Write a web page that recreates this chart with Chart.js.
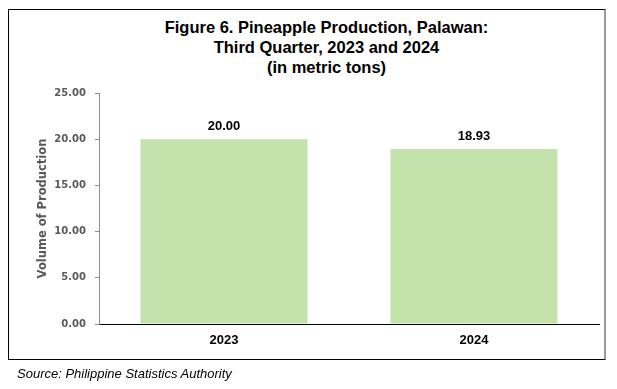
<!DOCTYPE html>
<html>
<head>
<meta charset="utf-8">
<script src="https://cdn.jsdelivr.net/npm/chart.js@4.4.1/dist/chart.umd.min.js"></script>
<style>
  html, body { margin: 0; padding: 0; background: #ffffff; }
  #frame { position: absolute; left: 8px; top: 9px; width: 595px; height: 349px;
           border: 1px solid #000000; border-right: 2px solid #9a9a9a; box-sizing: content-box; }
  #wrap { position: absolute; left: 0; top: 0; width: 617px; height: 389px; }
  #title { position: absolute; left: 0; top: 17px; width: 653px; text-align: center;
           font: bold 16.5px "Liberation Sans", Arial, sans-serif; line-height: 20px; color: #000000; }
  #source { position: absolute; left: 17px; top: 366px; font: italic 13px "Liberation Sans", Arial, sans-serif;
            line-height: 15px; color: #000000; white-space: nowrap; }
</style>
</head>
<body>
<div id="frame"></div>
<div id="title"></div>
<div id="wrap"><canvas id="c" width="617" height="389"></canvas></div>
<div id="source">Source: Philippine Statistics Authority</div>
<script>
const categories = ["2023", "2024"];
const production = [20.00, 18.93];
const titleLines = ["Figure 6. Pineapple Production, Palawan:", "Third Quarter, 2023 and 2024", "(in metric tons)"];
const yTitle = "Volume of Production";
const yMax = 25;
const yStep = 5;

const titleEl = document.getElementById('title');
titleLines.forEach(line => {
  const d = document.createElement('div');
  d.textContent = line;
  titleEl.appendChild(d);
});

const valueLabels = {
  id: 'valueLabels',
  afterDatasetsDraw(chart) {
    const ctx = chart.ctx;
    ctx.save();
    ctx.font = 'bold 13px "Liberation Sans", Arial, sans-serif';
    ctx.fillStyle = '#000000';
    ctx.textAlign = 'center';
    ctx.textBaseline = 'middle';
    chart.data.datasets.forEach((ds, di) => {
      chart.getDatasetMeta(di).data.forEach((el, i) => {
        ctx.fillText(Number(ds.data[i]).toFixed(2), el.x, el.y - 13);
      });
    });
    ctx.restore();
  }
};

new Chart(document.getElementById('c'), {
  type: 'bar',
  data: {
    labels: categories,
    datasets: [{
      data: production,
      backgroundColor: '#c4e2ab',
      borderWidth: 0,
      categoryPercentage: 1.0,
      barPercentage: 0.668
    }]
  },
  options: {
    responsive: false,
    animation: false,
    layout: { padding: { left: 8, right: 18, top: 93, bottom: 30 } },
    plugins: {
      legend: { display: false },
      tooltip: { enabled: false },
      title: { display: false }
    },
    scales: {
      x: {
        grid: { display: false, drawTicks: false },
        border: { display: true, color: '#000000', width: 1 },
        ticks: {
          color: '#000000',
          padding: 9,
          font: { family: '"Liberation Sans", Arial, sans-serif', size: 13, weight: 'bold' }
        },
        afterFit(s) { s.height = 35; }
      },
      y: {
        min: 0,
        max: yMax,
        ticks: {
          stepSize: yStep,
          color: '#595959',
          padding: 9,
          font: { family: '"DejaVu Sans", Verdana, sans-serif', size: 10, weight: 'bold' },
          callback: v => Number(v).toFixed(2)
        },
        grid: { display: true, drawOnChartArea: false, drawTicks: true, tickLength: 4, color: '#8c8c8c' },
        border: { display: true, color: '#8c8c8c', width: 1 },
        title: {
          display: true,
          text: yTitle,
          color: '#595959',
          font: { family: '"DejaVu Sans", Verdana, sans-serif', size: 11.5, weight: 'bold' },
          padding: { top: 28, bottom: 0 }
        },
        afterFit(s) { s.width = 91; }
      }
    }
  },
  plugins: [valueLabels]
});
</script>
</body>
</html>
